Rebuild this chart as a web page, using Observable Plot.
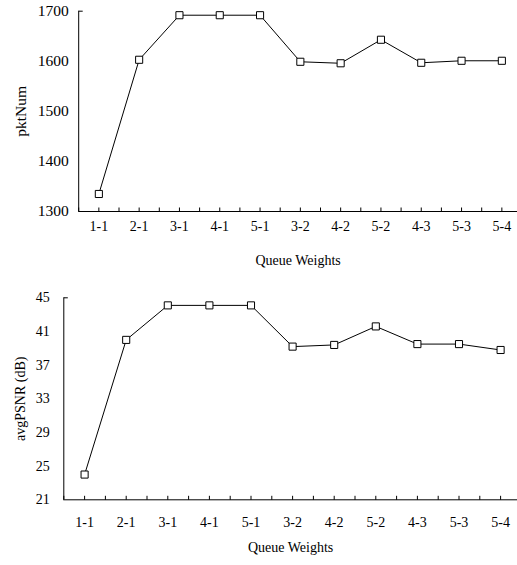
<!DOCTYPE html>
<html><head><meta charset="utf-8">
<script src="https://cdn.jsdelivr.net/npm/d3@7"></script>
<script src="https://cdn.jsdelivr.net/npm/@observablehq/plot@0.6"></script>
<style>
body{margin:0;background:#fff;}
#chart svg{display:block;}
</style>
</head><body><div id="chart"></div>
<script>
const categories = ["1-1","2-1","3-1","4-1","5-1","3-2","4-2","5-2","4-3","5-3","5-4"];
const pktNum = [1335,1603,1692,1692,1692,1599,1596,1643,1597,1601,1601];
const avgPSNR = [24.0,40.0,44.1,44.1,44.1,39.2,39.4,41.6,39.5,39.5,38.8];
const pktTicks = [1300,1400,1500,1600,1700];
const psnrTicks = [21,25,29,33,37,41,45];
const xLabel = "Queue Weights";
const pktLabel = "pktNum";
const psnrLabel = "avgPSNR (dB)";

const FONT = "'Liberation Serif','Times New Roman',serif";
const idx = categories.map((_, i) => i);
const halfTicks = d3.range(-0.5, categories.length, 0.5).map(v => ({v}));
const TICK = 4; // inward tick length in px

function chart(values, yTicks, yLabel, cfg) {
  const data = idx.map(i => ({i, v: values[i]}));
  const y0 = yTicks[0], y1 = yTicks[yTicks.length - 1];
  const frameH = cfg.height - cfg.top - cfg.bottom;
  const dyData = (y1 - y0) * TICK / frameH;
  const dxData = TICK / cfg.step;
  return Plot.plot({
    width: 517,
    height: cfg.height,
    marginLeft: cfg.left,
    marginRight: 0,
    marginTop: cfg.top,
    marginBottom: cfg.bottom,
    style: {fontFamily: FONT, color: "#000", background: "#fff"},
    x: {type: "linear", domain: [-0.5, categories.length - 0.5], range: [cfg.left, cfg.left + categories.length * cfg.step]},
    y: {domain: [y0, y1]},
    marks: [
      Plot.axisX({ticks: idx, tickFormat: i => categories[i], tickSize: 0, tickPadding: cfg.xPad, fontSize: 14,
        label: xLabel, labelAnchor: "center", labelOffset: cfg.xLabelOffset, labelArrow: "none"}),
      Plot.axisY({ticks: yTicks, tickFormat: d3.format("d"), tickSize: 0, tickPadding: cfg.yPad, fontSize: cfg.yFont,
        label: yLabel, labelAnchor: "center", labelOffset: cfg.yLabelOffset, labelArrow: "none"}),
      Plot.link(halfTicks, {x1: "v", x2: "v", y1: () => y0, y2: () => y0 + dyData, stroke: "#000", strokeWidth: 1}),
      Plot.link([y1], {x1: () => -0.5, x2: () => -0.5 + dxData, y1: d => d, y2: d => d, stroke: "#000", strokeWidth: 1}),
      Plot.ruleY([y0], {stroke: "#000"}),
      Plot.ruleX([-0.5], {stroke: "#000"}),
      Plot.line(data, {x: "i", y: "v", stroke: "#000", strokeWidth: 1}),
      Plot.dot(data, {x: "i", y: "v", symbol: "square", r: 4, fill: "#fff", stroke: "#000", strokeWidth: 1})
    ]
  });
}

const el = document.getElementById("chart");
el.append(chart(pktNum, pktTicks, pktLabel, {height: 278, left: 78.2, step: 40.3, top: 10.7, bottom: 67, xPad: 10, yPad: 10, yFont: 15.5, xLabelOffset: 53, yLabelOffset: 64}));
el.append(chart(avgPSNR, psnrTicks, psnrLabel, {height: 287, left: 63.3, step: 41.6, top: 19.3, bottom: 65.7, xPad: 17, yPad: 14, yFont: 14, xLabelOffset: 52, yLabelOffset: 49}));
</script>
</body></html>
